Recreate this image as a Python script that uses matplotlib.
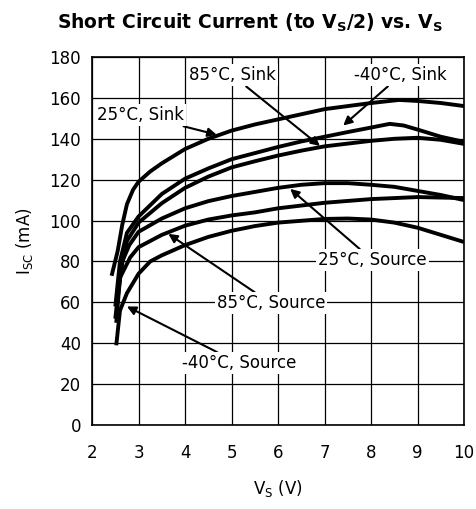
import matplotlib
matplotlib.use("Agg")
import matplotlib.pyplot as plt

plt.rcParams["font.family"] = ["DejaVu Sans"]
plt.rcParams["mathtext.fontset"] = "dejavusans"

# Data (Vs in V, Isc in mA)
sink25_x = [2.42, 2.55, 2.65, 2.75, 2.88, 3.0, 3.25, 3.5, 4, 4.5, 5, 5.5, 6, 7, 8, 8.6, 9, 9.5, 10]
sink25_y = [73, 85, 98, 108, 115, 119, 124, 128, 135, 140, 144, 147, 149.5, 154.5, 157.5, 159, 158.5, 157.5, 156]

sinkm40_x = [2.5, 2.6, 2.75, 3.0, 3.5, 4, 4.5, 5, 5.5, 6, 6.5, 7, 7.5, 8, 8.4, 8.7, 9.0, 9.5, 10]
sinkm40_y = [58, 80, 94, 102, 113, 120.5, 125.5, 130, 133, 136, 138.7, 141, 143.3, 145.5, 147.3, 146.5, 144.5, 141, 138.5]

sink85_x = [2.5, 2.6, 2.75, 3.0, 3.5, 4, 4.5, 5, 5.5, 6, 6.5, 7, 8, 8.5, 9, 9.5, 10]
sink85_y = [52, 74, 90, 99, 108.5, 116, 121.5, 126, 129, 131.8, 134.2, 136.3, 139, 140, 140.5, 139.5, 137.5]

src25_x = [2.55, 2.65, 2.8, 3.0, 3.5, 4, 4.5, 5, 5.5, 6, 6.5, 7, 7.5, 8, 8.5, 9, 9.5, 10]
src25_y = [62, 80, 88, 94.5, 101, 106, 109.5, 112, 114, 116, 117.5, 118.3, 118.3, 117.5, 116.5, 114.5, 112.5, 110]

src85_x = [2.52, 2.6, 2.82, 3.0, 3.5, 4, 4.5, 5, 5.5, 6, 7, 8, 9, 10]
src85_y = [50, 72, 82, 87, 93, 97.5, 100.5, 102.5, 104, 106, 108.7, 110.5, 111.5, 111]

srcm40_x = [2.52, 2.6, 2.75, 3.0, 3.25, 3.5, 4, 4.5, 5, 5.5, 6, 7, 7.5, 8, 8.5, 9, 9.5, 10]
srcm40_y = [39, 56, 64.5, 74, 80, 83, 88, 92, 95, 97.3, 99, 100.8, 101, 100.5, 99, 96.5, 93, 89.5]

x_ticks = [2, 3, 4, 5, 6, 7, 8, 9, 10]
y_ticks = [0, 20, 40, 60, 80, 100, 120, 140, 160, 180]

fig = plt.figure(figsize=(4.77, 5.09), dpi=100)
ax = fig.add_axes([0.193, 0.165, 0.780, 0.723])

for xs, ys in [(sink25_x, sink25_y), (sinkm40_x, sinkm40_y), (sink85_x, sink85_y),
               (src25_x, src25_y), (src85_x, src85_y), (srcm40_x, srcm40_y)]:
    ax.plot(xs, ys, color="black", lw=2.8, solid_capstyle="butt", zorder=3)

ax.set_xlim(2, 10)
ax.set_ylim(0, 180)
ax.set_xticks(x_ticks)
ax.set_yticks(y_ticks)
ax.tick_params(axis="x", length=0, labelsize=12, pad=14)
ax.tick_params(axis="y", length=0, labelsize=12, pad=8)
ax.grid(True, color="black", lw=0.9)
for s in ax.spines.values():
    s.set_linewidth(1.2)

ax.set_xlabel("V$_\\mathrm{S}$ (V)", fontsize=12, labelpad=11)
ax.set_ylabel("I$_\\mathrm{SC}$ (mA)", fontsize=12, labelpad=10)
fig.text(0.524, 0.955, "Short Circuit Current (to V$_\\mathbf{S}$/2) vs. V$_\\mathbf{S}$",
         ha="center", va="center", fontsize=13.5, fontweight="bold")

# Labels with arrows
box = dict(facecolor="white", edgecolor="none", pad=1.5)
arrow = dict(arrowstyle="-|>", color="black", lw=1.5, mutation_scale=13, shrinkA=0, shrinkB=0)
notes = [
    ("25°C, Sink", (2.1, 151.5), (4.68, 142), "left"),
    ("85°C, Sink", (5.02, 171), (6.9, 136.5), "center"),
    ("-40°C, Sink", (8.63, 171), (7.4, 146.5), "center"),
    ("25°C, Source", (8.03, 80.7), (6.26, 115.5), "center"),
    ("85°C, Source", (5.85, 59.5), (3.64, 93.5), "center"),
    ("-40°C, Source", (5.16, 30.2), (2.75, 58), "center"),
]
for text, xy_text, xy_tip, ha in notes:
    ax.annotate(text, xy=xy_tip, xytext=xy_text, ha=ha, va="center", fontsize=12,
                bbox=box, arrowprops=arrow, zorder=5)

fig.savefig("out.png", dpi=100)
